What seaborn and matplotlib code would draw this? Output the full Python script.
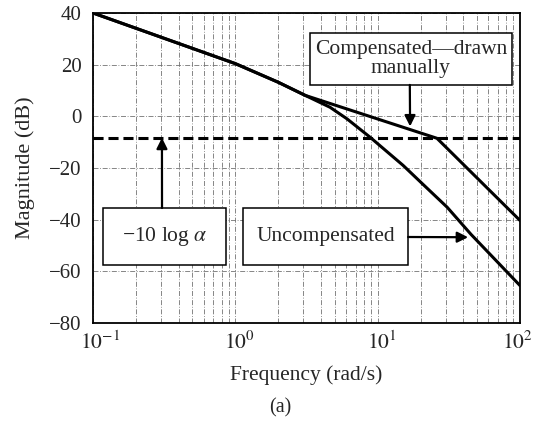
import matplotlib
matplotlib.use("Agg")
import matplotlib.pyplot as plt
from matplotlib.patches import Rectangle
from matplotlib.transforms import ScaledTranslation
import seaborn as sns
import pandas as pd

# values
freq_unc = [0.1, 1.0, 2.0, 3.1, 4.63, 6.1, 8.85, 15.1, 20.8, 30.8, 45.3, 100]
mag_unc = [40, 20.4, 13.2, 8.1, 3.5, -1.0, -8.1, -19.0, -26.3, -35.2, -45.7, -65.5]

freq_comp = [0.1, 1.0, 2.0, 3.1, 26.1, 100]
mag_comp = [40, 20.4, 13.2, 8.1, -8.5, -40.3]

alpha_db = -8.3

y_ticks = [40, 20, 0, -20, -40, -60, -80]
y_labels = ["40", "20", "0", "\u221220", "\u221240", "\u221260", "\u221280"]
x_ticks = [0.1, 1, 10, 100]
x_labels = [r"$10^{-1}$", r"$10^{0}$", r"$10^{1}$", r"$10^{2}$"]


def make_plot():
    sns.set_style("white")
    plt.rcParams["font.family"] = ["Liberation Serif", "DejaVu Serif"]
    plt.rcParams["mathtext.fontset"] = "stix"

    fig = plt.figure(figsize=(5.38, 4.29), dpi=100)
    ax = fig.add_axes([0.1729, 0.2471, 0.7936, 0.7226])
    ax.set_xscale("log")

    df_unc = pd.DataFrame({"Frequency": freq_unc, "Magnitude": mag_unc})
    df_comp = pd.DataFrame({"Frequency": freq_comp, "Magnitude": mag_comp})

    sns.lineplot(ax=ax, data=df_unc, x="Frequency", y="Magnitude",
                 color="black", lw=2.2, sort=False, zorder=4)
    sns.lineplot(ax=ax, data=df_comp, x="Frequency", y="Magnitude",
                 color="black", lw=2.2, sort=False, zorder=4)
    ax.axhline(alpha_db, color="black", lw=2.2, dashes=(3.3, 1.6), zorder=3)

    ax.set_xlim(0.1, 100)
    ax.set_ylim(-80, 40)
    ax.set_yticks(y_ticks)
    ax.set_yticklabels(y_labels, fontsize=15)
    ax.set_xticks(x_ticks)
    ax.set_xticklabels(x_labels, fontsize=15.5)
    ax.tick_params(which="both", length=0)
    ax.tick_params(axis="y", pad=8)
    ax.tick_params(axis="x", pad=6)
    # centre the "10" under the tick, exponent hangs to the right
    shifts = [0.075, 0.04, 0.04, -0.02]
    for lab, dx in zip(ax.get_xticklabels(), shifts):
        lab.set_transform(lab.get_transform()
                          + ScaledTranslation(dx, 0, fig.dpi_scale_trans))

    ax.grid(True, which="both", color="0.45", lw=0.6,
            linestyle=(0, (6, 2, 1, 2)))
    for s in ax.spines.values():
        s.set_color("black")
        s.set_linewidth(1.3)

    ax.set_xlabel("Frequency (rad/s)", fontsize=15.5, labelpad=8)
    ax.set_ylabel("Magnitude (dB)", fontsize=16, labelpad=10)
    fig.text(0.52, 0.05, "(a)", ha="center", va="center", fontsize=14.5)

    # annotation boxes
    boxes = [
        (0.508, 0.768, 0.473, 0.167, "Compensated\u2014drawn\nmanually"),
        (0.0234, 0.187, 0.288, 0.184, "\u221210 log $\\alpha$"),
        (0.351, 0.187, 0.387, 0.184, "Uncompensated"),
    ]
    for x0, y0, w, h, txt in boxes:
        ax.add_patch(Rectangle((x0, y0), w, h, transform=ax.transAxes,
                               facecolor="white", edgecolor="black",
                               lw=1.1, zorder=5))
        ax.text(x0 + w / 2, y0 + h / 2, txt, transform=ax.transAxes,
                ha="center", va="center", fontsize=15.5, zorder=6,
                linespacing=1.0)

    arrow = dict(arrowstyle="-|>", color="black", lw=1.6, mutation_scale=16,
                 shrinkA=0, shrinkB=0)
    ax.annotate("", xy=(16.9, -3.9), xycoords="data",
                xytext=(0.742, 0.768), textcoords="axes fraction",
                arrowprops=arrow, zorder=6)
    ax.annotate("", xy=(0.305, alpha_db), xycoords="data",
                xytext=(0.1616, 0.371), textcoords="axes fraction",
                arrowprops=arrow, zorder=6)
    ax.annotate("", xy=(43.2, -46.8), xycoords="data",
                xytext=(0.738, 0.2774), textcoords="axes fraction",
                arrowprops=arrow, zorder=6)

    fig.savefig("out.png", dpi=100)


def main():
    make_plot()


if __name__ == "__main__":
    main()
